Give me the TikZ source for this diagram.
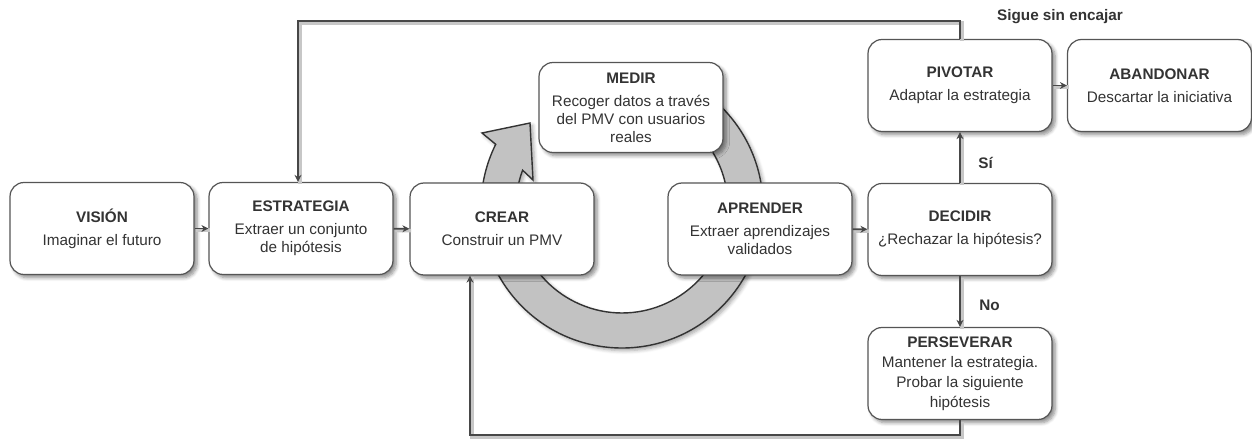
\documentclass[tikz,border=0pt]{standalone}
\usepackage{fontspec}
\setmainfont{Liberation Sans}
\usetikzlibrary{arrows.meta,shadows.blur}

\definecolor{ink}{HTML}{333333}
\definecolor{wire}{HTML}{474747}
\definecolor{edge}{HTML}{555555}
\definecolor{loopfill}{HTML}{C2C2C2}

\begin{document}
\begin{tikzpicture}[x=0.02cm,y=-0.02cm,
  stage/.style={draw=edge, line width=0.7pt, fill=white, rounded corners=0.28cm,
    minimum width=3.68cm, minimum height=1.84cm, align=center, text=ink,
    font=\fontsize{8.7}{10.2}\selectfont, inner sep=2pt,
    blur shadow={shadow xshift=1.8pt, shadow yshift=-1.8pt, shadow blur steps=6,
      shadow opacity=45, shadow blur radius=2pt}},
  glow/.style={preaction={draw=black!22, line width=2pt, -,
    transform canvas={shift={(1pt,-1pt)}}}},
  flow/.style={draw=wire, line width=1.1pt, glow, -{Stealth[length=4pt,width=4pt]}},
  tag/.style={text=ink, font=\fontsize{8.7}{10.2}\selectfont\bfseries, inner sep=0pt},
  cycle arrow/.style={draw=black!80, line width=0.8pt, fill=loopfill,
    blur shadow={shadow xshift=1.5pt, shadow yshift=-1.5pt, shadow blur steps=5,
      shadow opacity=35}}
]
\useasboundingbox (0,0) rectangle (1252,439);

% build-measure-learn loop drawn behind the three stages
\draw[cycle arrow] (622,66) arc[start angle=-90, end angle=206.4, radius=141]
  -- (482,133) -- (530,123) -- (533,180) -- (522.6,170.2)
  arc[start angle=200.3, end angle=-90, radius=106] -- cycle;

% stages
\node[stage] (vision) at (102,228.5) {\textbf{VISIÓN}\\[3pt]Imaginar el futuro};
\node[stage] (estrategia) at (301,228.5) {\textbf{ESTRATEGIA}\\[3pt]Extraer un conjunto\\de hipótesis};
\node[stage] (crear) at (502,229) {\textbf{CREAR}\\[3pt]Construir un PMV};
\node[stage, minimum height=1.8cm] (medir) at (631,107.5) {\textbf{MEDIR}\\[3pt]Recoger datos a través\\del PMV con usuarios\\reales};
\node[stage] (aprender) at (760,229) {\textbf{APRENDER}\\[3pt]Extraer aprendizajes\\validados};
\node[stage] (decidir) at (960,229.5) {\textbf{DECIDIR}\\[3pt]¿Rechazar la hipótesis?};
\node[stage] (pivotar) at (960,85.5) {\textbf{PIVOTAR}\\[3pt]Adaptar la estrategia};
\node[stage] (abandonar) at (1159.5,85.5) {\textbf{ABANDONAR}\\[3pt]Descartar la iniciativa};
\node[stage, font=\fontsize{8.7}{11.3}\selectfont] (perseverar) at (960,373.5)
  {\textbf{PERSEVERAR}\\Mantener la estrategia.\\Probar la siguiente\\hipótesis};

% corners of the two feedback loops
\coordinate (topturn) at (298,21);
\coordinate (bottomturn) at (470,435);

% connectors
\draw[flow] (vision) -- (estrategia);
\draw[flow] (estrategia) -- (crear);
\draw[flow] (aprender) -- (decidir);
\draw[flow] (pivotar) -- (abandonar);
\draw[flow] (decidir) -- (pivotar);
\draw[flow] (decidir) -- (perseverar);
\draw[flow] (pivotar.north) |- (topturn) -- (topturn |- estrategia.north);
\draw[flow] (perseverar.south) |- (bottomturn) -- (bottomturn |- crear.south);

% labels
\node[tag] (sigue) at (1060,17) {Sigue sin encajar};
\node[tag, anchor=west] (si) at (978,163) {Sí};
\node[tag, anchor=west] (no) at (979,305) {No};
\end{tikzpicture}
\end{document}
